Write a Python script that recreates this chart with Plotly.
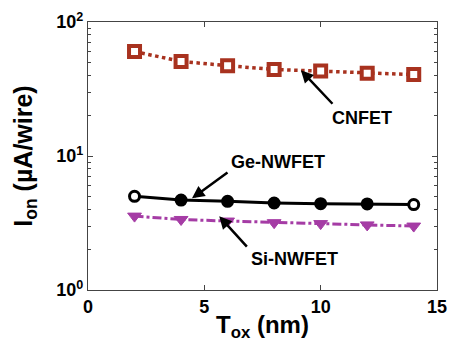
import plotly.graph_objects as go

tox = [2, 4, 6, 8, 10, 12, 14]
cnfet = [60.2, 50.8, 47.2, 44.2, 43.0, 41.5, 40.5]
ge_nwfet = [5.0, 4.69, 4.59, 4.46, 4.41, 4.39, 4.34]
si_nwfet = [3.56, 3.36, 3.27, 3.18, 3.13, 3.06, 3.0]

y_tickvals = [1, 10, 100]
y_ticktext = ["10<sup>0</sup>", "10<sup>1</sup>", "10<sup>2</sup>"]
x_tickvals = [0, 5, 10, 15]

red = "#a8321f"
mag = "#a53ca5"

fig = go.Figure()
fig.add_trace(go.Scatter(
    x=tox, y=cnfet, mode="lines+markers",
    line=dict(color=red, width=3.5, dash="dot"),
    marker=dict(symbol="square", size=11, color="white", line=dict(color=red, width=4)),
))
fig.add_trace(go.Scatter(
    x=tox, y=ge_nwfet, mode="lines+markers",
    line=dict(color="black", width=3),
    marker=dict(symbol="circle", size=10,
                color=["white", "black", "black", "black", "black", "black", "white"],
                line=dict(color="black", width=3)),
))
fig.add_trace(go.Scatter(
    x=tox, y=si_nwfet, mode="lines+markers",
    line=dict(color=mag, width=3, dash="dashdot"),
    marker=dict(symbol="triangle-down", size=12, color=mag, line=dict(color=mag, width=1)),
))

font_b = dict(family="Liberation Sans", size=18, color="black")

anns = [
    dict(x=9.15, y=1.640, ax=33, ay=35),
    dict(x=4.47, y=0.684, ax=37, ay=-27),
    dict(x=5.64, y=0.551, ax=29, ay=32),
]
for a in anns:
    fig.add_annotation(x=a["x"], y=a["y"], xref="x", yref="y", ax=a["ax"], ay=a["ay"],
                       text="", showarrow=True, arrowhead=2, arrowsize=1,
                       arrowwidth=2.5, arrowcolor="black")

labels = [
    (11.78, 1.287, "CNFET"),
    (8.15, 0.956, "Ge-NWFET"),
    (8.86, 0.235, "Si-NWFET"),
]
for lx, ly, t in labels:
    fig.add_annotation(x=lx, y=ly, xref="x", yref="y", text="<b>%s</b>" % t,
                       showarrow=False, font=font_b)

fig.update_layout(
    width=457, height=350,
    margin=dict(l=88, r=10, t=18, b=60),
    plot_bgcolor="white", paper_bgcolor="white",
    showlegend=False,
    font=dict(family="Liberation Sans", size=16, color="black"),
)
fig.update_xaxes(
    range=[0, 15], tickvals=x_tickvals, ticktext=["<b>%d</b>" % v for v in x_tickvals],
    ticks="inside", ticklen=5, tickcolor="#444", showline=True, linecolor="#444", linewidth=1.2,
    mirror="ticks", showgrid=False, zeroline=False,
    tickfont=dict(family="Liberation Sans", size=18, color="black"),
    title=dict(text="<b>T<sub>ox</sub> (nm)</b>", font=dict(family="Liberation Sans", size=24), standoff=0),
)
fig.update_yaxes(
    type="log", range=[0, 2], tickvals=y_tickvals,
    ticktext=["<b>%s</b>" % t for t in y_ticktext],
    ticks="inside", ticklen=5, tickcolor="#444", showline=True, linecolor="#444", linewidth=1.2,
    mirror="ticks", showgrid=False, zeroline=False,
    minor=dict(ticks="inside", ticklen=3, tickcolor="#444",
               tickvals=[2, 3, 4, 5, 6, 7, 8, 9, 20, 30, 40, 50, 60, 70, 80, 90], showgrid=False),
    tickfont=dict(family="Liberation Sans", size=18, color="black"),
    title=dict(text="<b>I<sub>on</sub> (µA/wire)</b>", font=dict(family="Liberation Sans", size=25), standoff=16),
)

fig.write_html("out.html")
